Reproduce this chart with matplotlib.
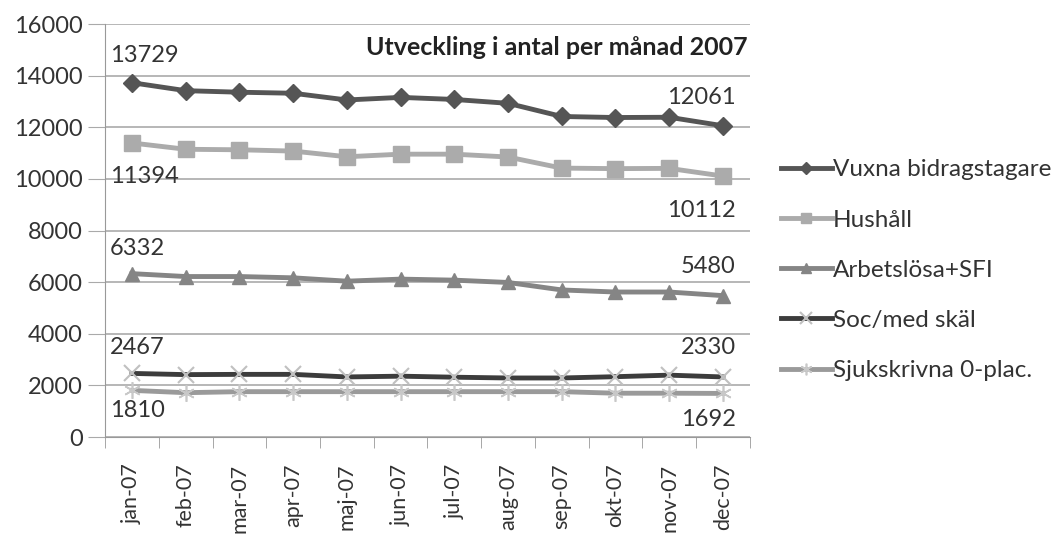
import matplotlib
matplotlib.use('Agg')
import matplotlib.pyplot as plt
import numpy as np

plt.rcParams['font.family'] = ['Lato', 'DejaVu Sans']

months = ['jan-07', 'feb-07', 'mar-07', 'apr-07', 'maj-07', 'jun-07',
          'jul-07', 'aug-07', 'sep-07', 'okt-07', 'nov-07', 'dec-07']

vuxna = [13729, 13420, 13360, 13320, 13060, 13160, 13080, 12930, 12420, 12380, 12390, 12061]
hushall = [11394, 11150, 11130, 11080, 10860, 10960, 10960, 10850, 10420, 10400, 10410, 10112]
arbetslosa = [6332, 6220, 6220, 6170, 6040, 6120, 6080, 5990, 5700, 5620, 5620, 5480]
socmed = [2467, 2420, 2430, 2430, 2330, 2360, 2320, 2290, 2290, 2340, 2400, 2330]
sjuk = [1810, 1720, 1760, 1760, 1760, 1760, 1760, 1760, 1760, 1700, 1700, 1692]

x = np.arange(len(months))

fig = plt.figure(figsize=(10.62, 5.35), dpi=100)
ax = fig.add_axes([0.099, 0.183, 0.607, 0.772])

ax.plot(x, vuxna, color='#555555', lw=3.5, marker='D', ms=9, mfc='#555555', mec='#555555',
        label='Vuxna bidragstagare', zorder=5)
ax.plot(x, hushall, color='#ababab', lw=3.5, marker='s', ms=11, mfc='#ababab', mec='#ababab',
        label='Hushåll', zorder=4)
ax.plot(x, arbetslosa, color='#858585', lw=3.5, marker='^', ms=10, mfc='#858585', mec='#858585',
        label='Arbetslösa+SFI', zorder=4)
ax.plot(x, socmed, color='#3c3c3c', lw=3.5, marker='x', ms=12, mew=1.5, mec='#c0c0c0',
        label='Soc/med skäl', zorder=3)
ax.plot(x, sjuk, color='#9a9a9a', lw=3.5, marker=(6, 2, 0), ms=12, mew=1.2, mec='#c8c8c8',
        label='Sjukskrivna 0-plac.', zorder=2)

# data labels at first and last month
lab_kw = dict(textcoords='offset pixels', fontsize=17, color='#333333', va='center')
for series, up_first, up_last in [(vuxna, 27, 28), (hushall, -34, -34), (arbetslosa, 25, 29),
                                  (socmed, 26, 29), (sjuk, -20, -26)]:
    ax.annotate(str(series[0]), (x[0], series[0]), xytext=(-22, up_first), ha='left', **lab_kw)
    ax.annotate(str(series[-1]), (x[-1], series[-1]), xytext=(13, up_last), ha='right', **lab_kw)

ax.set_xlim(-0.5, 11.5)
ax.set_ylim(0, 16000)
ax.set_yticks(np.arange(0, 16001, 2000))
ax.set_xticks(x)
ax.set_xticklabels(months, rotation=90, fontsize=15.5, color='#333333')
ax.set_xticks(np.arange(-0.5, 12, 1), minor=True)
ax.tick_params(axis='x', which='major', length=0, pad=19)
ax.tick_params(axis='x', which='minor', length=8, color='#999999', direction='out')
ax.tick_params(axis='y', length=12, color='#aaaaaa', labelsize=17, labelcolor='#333333', pad=4)

ax.grid(axis='y', color='#aaaaaa', lw=1.2)
ax.set_axisbelow(True)
for s in ['top', 'right']:
    ax.spines[s].set_visible(False)
for s in ['left', 'bottom']:
    ax.spines[s].set_color('#999999')

ax.text(0.997, 0.944, 'Utveckling i antal per månad 2007', transform=ax.transAxes,
        ha='right', va='center', fontsize=18, fontweight='bold', color='#222222')

fig.legend(loc='center left', bbox_to_anchor=(0.735, 0.495), frameon=False, fontsize=17.5,
           labelspacing=1.2, handlelength=2.1, handletextpad=0.05, labelcolor='#333333',
           markerscale=0.7, borderaxespad=0, borderpad=0)

fig.savefig('out.png', dpi=100)
